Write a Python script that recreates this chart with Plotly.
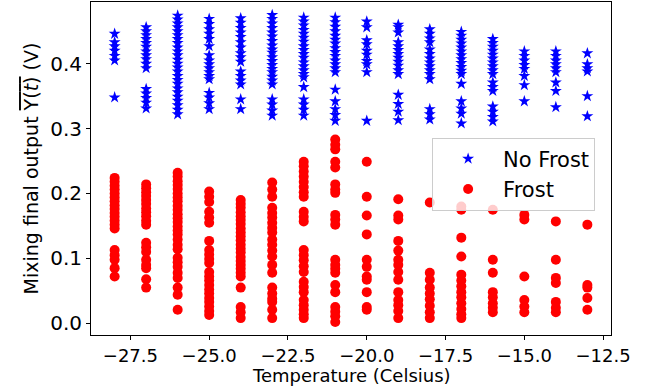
import plotly.graph_objects as go

temperatures = [-28, -27, -26, -25, -24, -23, -22, -21, -20, -19, -18, -17, -16, -15, -14, -13]

no_frost_values = [
    [0.446, 0.433, 0.427, 0.420, 0.412, 0.405, 0.348],
    [0.456, 0.450, 0.444, 0.438, 0.432, 0.426, 0.419, 0.413, 0.407, 0.400, 0.393, 0.361, 0.354, 0.347, 0.340, 0.331],
    [0.474, 0.468, 0.462, 0.456, 0.450, 0.444, 0.438, 0.432, 0.425, 0.419, 0.413, 0.406, 0.400, 0.394, 0.388, 0.381,
     0.375, 0.369, 0.362, 0.356, 0.349, 0.343, 0.336, 0.329, 0.322],
    [0.469, 0.461, 0.453, 0.446, 0.438, 0.427, 0.413, 0.405, 0.399, 0.393, 0.387, 0.381, 0.376, 0.355, 0.348, 0.339, 0.330],
    [0.470, 0.463, 0.455, 0.448, 0.441, 0.433, 0.425, 0.416, 0.410, 0.403, 0.388, 0.381, 0.374, 0.368, 0.345, 0.330],
    [0.475, 0.469, 0.462, 0.455, 0.448, 0.442, 0.435, 0.428, 0.422, 0.417, 0.410, 0.404, 0.398, 0.392, 0.387, 0.380,
     0.374, 0.368, 0.345, 0.337, 0.328, 0.320],
    [0.471, 0.465, 0.459, 0.452, 0.446, 0.440, 0.434, 0.427, 0.421, 0.415, 0.409, 0.402, 0.396, 0.390, 0.384, 0.379,
     0.364, 0.345, 0.337, 0.329, 0.320],
    [0.471, 0.464, 0.457, 0.450, 0.443, 0.437, 0.431, 0.424, 0.418, 0.412, 0.405, 0.399, 0.393, 0.387, 0.360, 0.342,
     0.330, 0.321, 0.312],
    [0.465, 0.456, 0.436, 0.430, 0.420, 0.414, 0.404, 0.399, 0.387, 0.312],
    [0.460, 0.456, 0.448, 0.433, 0.427, 0.421, 0.415, 0.409, 0.403, 0.397, 0.390, 0.384, 0.352, 0.338, 0.326, 0.313],
    [0.453, 0.446, 0.439, 0.433, 0.422, 0.415, 0.408, 0.402, 0.396, 0.390, 0.384, 0.376, 0.330, 0.322, 0.314],
    [0.449, 0.443, 0.437, 0.431, 0.425, 0.419, 0.413, 0.407, 0.401, 0.395, 0.389, 0.384, 0.369, 0.342, 0.331, 0.323, 0.308],
    [0.438, 0.432, 0.426, 0.420, 0.414, 0.408, 0.402, 0.396, 0.390, 0.384, 0.371, 0.364, 0.358, 0.334, 0.326, 0.318, 0.311],
    [0.419, 0.412, 0.405, 0.398, 0.392, 0.381, 0.367, 0.342],
    [0.419, 0.412, 0.405, 0.399, 0.393, 0.387, 0.371, 0.358, 0.333],
    [0.416, 0.399, 0.393, 0.388, 0.350, 0.319],
]

frost_values = [
    [0.224, 0.218, 0.212, 0.206, 0.200, 0.194, 0.188, 0.182, 0.176, 0.170, 0.164, 0.158, 0.152, 0.146, 0.113, 0.105,
     0.098, 0.085, 0.072],
    [0.214, 0.208, 0.202, 0.196, 0.190, 0.184, 0.177, 0.171, 0.165, 0.158, 0.152, 0.124, 0.117, 0.110, 0.098, 0.090,
     0.085, 0.068, 0.055],
    [0.232, 0.226, 0.219, 0.213, 0.207, 0.200, 0.194, 0.188, 0.181, 0.175, 0.168, 0.162, 0.156, 0.149, 0.143, 0.137,
     0.129, 0.121, 0.114, 0.101, 0.094, 0.087, 0.078, 0.070, 0.055, 0.044, 0.021],
    [0.203, 0.195, 0.187, 0.172, 0.163, 0.155, 0.127, 0.113, 0.106, 0.099, 0.093, 0.079, 0.072, 0.066, 0.059, 0.052,
     0.046, 0.039, 0.033, 0.026, 0.019, 0.013],
    [0.190, 0.184, 0.178, 0.171, 0.165, 0.159, 0.153, 0.146, 0.140, 0.134, 0.128, 0.121, 0.115, 0.109, 0.102, 0.096,
     0.090, 0.084, 0.078, 0.072, 0.055, 0.025, 0.017, 0.008],
    [0.217, 0.206, 0.195, 0.178, 0.170, 0.163, 0.155, 0.147, 0.140, 0.129, 0.121, 0.112, 0.103, 0.090, 0.078, 0.055,
     0.046, 0.038, 0.033, 0.021, 0.008],
    [0.249, 0.242, 0.234, 0.226, 0.218, 0.210, 0.202, 0.195, 0.172, 0.164, 0.157, 0.113, 0.105, 0.097, 0.088, 0.079,
     0.064, 0.056, 0.048, 0.036, 0.028, 0.021, 0.014, 0.008],
    [0.283, 0.275, 0.268, 0.249, 0.240, 0.214, 0.206, 0.201, 0.167, 0.160, 0.152, 0.098, 0.090, 0.084, 0.078, 0.059,
     0.048, 0.025, 0.018, 0.011, 0.002],
    [0.249, 0.195, 0.166, 0.137, 0.098, 0.087, 0.072, 0.067, 0.048, 0.025, 0.021],
    [0.191, 0.166, 0.160, 0.127, 0.112, 0.098, 0.090, 0.079, 0.067, 0.048, 0.036, 0.028, 0.019, 0.008],
    [0.186, 0.078, 0.067, 0.055, 0.046, 0.037, 0.027, 0.017, 0.008],
    [0.180, 0.175, 0.132, 0.103, 0.075, 0.066, 0.057, 0.048, 0.040, 0.031, 0.022, 0.014, 0.008],
    [0.175, 0.098, 0.078, 0.048, 0.040, 0.031, 0.024, 0.017],
    [0.167, 0.160, 0.072, 0.036, 0.026, 0.017],
    [0.157, 0.098, 0.070, 0.062, 0.033, 0.024, 0.017],
    [0.152, 0.059, 0.055, 0.039, 0.021],
]

x_tick_values = [-27.5, -25.0, -22.5, -20.0, -17.5, -15.0, -12.5]
x_tick_labels = ["\u221227.5", "\u221225.0", "\u221222.5", "\u221220.0", "\u221217.5", "\u221215.0", "\u221212.5"]
y_tick_values = [0.0, 0.1, 0.2, 0.3, 0.4]
y_tick_labels = ["0.0", "0.1", "0.2", "0.3", "0.4"]
x_title = "Temperature (Celsius)"
y_title = "Mixing final output <span style='text-decoration:overline'>Y(<i>t</i>)</span> (V)"


def flatten(temps, groups):
    xs, ys = [], []
    for t, vals in zip(temps, groups):
        for v in vals:
            xs.append(t)
            ys.append(v)
    return xs, ys


nf_x, nf_y = flatten(temperatures, no_frost_values)
fr_x, fr_y = flatten(temperatures, frost_values)

FONT = "DejaVu Sans"

fig = go.Figure()
fig.add_trace(go.Scatter(
    x=nf_x, y=nf_y, mode="markers", name="No Frost",
    marker=dict(symbol="star", size=9, color="#0000ff", line=dict(width=0)),
))
fig.add_trace(go.Scatter(
    x=fr_x, y=fr_y, mode="markers", name="Frost",
    marker=dict(symbol="circle", size=10, color="#ff0000", line=dict(width=0)),
))

axis_common = dict(
    showgrid=False, zeroline=False, showline=True, mirror=True,
    linecolor="#000000", linewidth=1, ticks="outside", ticklen=4,
    tickcolor="#000000", tickwidth=1,
)

fig.update_layout(
    width=648, height=387,
    margin=dict(l=91, r=37, t=2, b=52),
    paper_bgcolor="white", plot_bgcolor="white",
    font=dict(family=FONT, color="#000000"),
    showlegend=True,
    legend=dict(
        x=0.656, y=0.593, xanchor="left", yanchor="top",
        bgcolor="rgba(255,255,255,0.8)", bordercolor="#cccccc", borderwidth=1,
        font=dict(family=FONT, size=21, color="#000000"),
        itemwidth=60,
    ),
    xaxis=dict(
        range=[-28.75, -12.25],
        tickmode="array", tickvals=x_tick_values, ticktext=x_tick_labels,
        tickfont=dict(family=FONT, size=18, color="#000000"),
        **axis_common,
    ),
    yaxis=dict(
        range=[-0.018, 0.495],
        tickmode="array", tickvals=y_tick_values, ticktext=y_tick_labels,
        tickfont=dict(family=FONT, size=20, color="#000000"),
        title=dict(text=y_title, font=dict(family=FONT, size=19, color="#000000"), standoff=6),
        **axis_common,
    ),
    annotations=[dict(
        text=x_title, xref="paper", yref="paper", x=0.5, y=-0.156,
        xanchor="center", yanchor="bottom", showarrow=False, borderpad=0,
        font=dict(family=FONT, size=18, color="#000000"),
    )],
)

fig.write_html("out.html", config={"displayModeBar": False},
               post_script="document.body.style.margin='0';")
